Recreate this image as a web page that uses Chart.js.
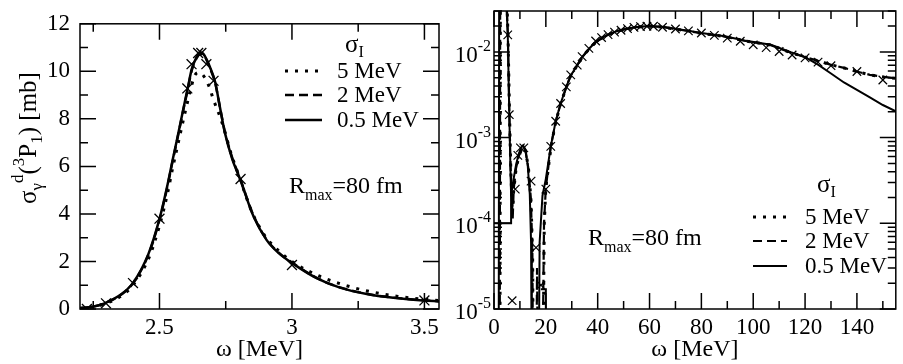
<!DOCTYPE html>
<html>
<head>
<meta charset="utf-8">
<script src="https://cdn.jsdelivr.net/npm/chart.js@4.4.0/dist/chart.umd.min.js"></script>
<style>
body { margin: 0; background: #fff; width: 903px; height: 364px; overflow: hidden; }
canvas { position: absolute; top: 0; }
#left { left: 0; }
#right { left: 450px; }
</style>
</head>
<body>
<canvas id="left" width="450" height="364"></canvas>
<canvas id="right" width="453" height="364"></canvas>
<script>
const FONT = '"Liberation Serif", "Times New Roman", serif';

// ---- left panel: omega [MeV] vs sigma [mb] ----
const leftXTicks = [2.5, 3, 3.5];
const leftYTicks = [0, 2, 4, 6, 8, 10, 12];

const leftSolidX = [2.2, 2.25, 2.29, 2.357, 2.4, 2.458, 2.5, 2.527, 2.552, 2.565, 2.59, 2.606, 2.622, 2.64, 2.653, 2.665, 2.68, 2.691, 2.71, 2.728, 2.747, 2.775, 2.804, 2.854, 2.904, 2.95, 3.005, 3.093, 3.181, 3.282, 3.382, 3.495, 3.555];
const leftSolidY = [0.03, 0.1, 0.23, 0.63, 1.1, 2.31, 3.79, 5.06, 6.4, 7.07, 8.42, 9.26, 10.1, 10.6, 10.8, 10.75, 10.45, 10.16, 9.55, 8.5, 7.41, 6.3, 5.47, 3.92, 2.91, 2.35, 1.9, 1.3, 0.9, 0.63, 0.47, 0.36, 0.32];

const leftDashX = [2.2, 2.25, 2.29, 2.357, 2.4, 2.458, 2.5, 2.527, 2.552, 2.565, 2.59, 2.606, 2.622, 2.64, 2.653, 2.665, 2.68, 2.691, 2.71, 2.728, 2.747, 2.775, 2.804, 2.854, 2.904, 2.95, 3.005, 3.093, 3.181, 3.282, 3.382, 3.495, 3.555];
const leftDashY = [0.03, 0.1, 0.23, 0.62, 1.08, 2.28, 3.75, 5.0, 6.35, 7.02, 8.38, 9.2, 10.05, 10.55, 10.72, 10.7, 10.42, 10.12, 9.52, 8.5, 7.45, 6.35, 5.5, 3.95, 2.93, 2.37, 1.92, 1.31, 0.91, 0.64, 0.48, 0.37, 0.33];

const leftDotX = [2.2, 2.25, 2.3, 2.36, 2.4, 2.46, 2.5, 2.53, 2.55, 2.57, 2.59, 2.61, 2.634, 2.65, 2.669, 2.688, 2.703, 2.728, 2.743, 2.77, 2.8, 2.85, 2.9, 2.95, 3.0, 3.1, 3.2, 3.3, 3.4, 3.5, 3.555];
const leftDotY = [0.03, 0.1, 0.24, 0.58, 1.0, 2.15, 3.5, 4.85, 5.95, 6.95, 7.95, 8.9, 9.84, 9.95, 9.77, 9.34, 8.83, 8.1, 7.6, 6.55, 5.6, 4.05, 3.05, 2.45, 2.0, 1.4, 1.0, 0.72, 0.53, 0.41, 0.36];

const leftMarkX = [2.226, 2.298, 2.4, 2.5, 2.605, 2.621, 2.646, 2.658, 2.677, 2.704, 2.806, 3.0, 3.5];
const leftMarkY = [0.0, 0.24, 1.09, 3.8, 9.28, 10.3, 10.77, 10.77, 10.3, 9.6, 5.47, 1.85, 0.36];

// ---- right panel: omega [MeV] vs sigma (log) ----
const rightXTicks = [0, 20, 40, 60, 80, 100, 120, 140];
const rightYTicks = [1e-5, 1e-4, 1e-3, 1e-2];
const rightYExp = ['-5', '-4', '-3', '-2'];

// null breaks the line
const rightSolidX = [0, 6.6, 6.6, 6.6,
  1.8, 2.0, 3, 4.4, 4.9, 5.3, 5.9, 6.3, 6.6, 7.5, 8.5, 9.5, 10.5, 11.2, 12, 13, 13.8, 14.3, 14.6, 14.6,
  17.2, 17.6, 18.7, 20, 21.9, 23.8, 25.7, 27.9, 29.6, 32.1, 34, 36.6, 39.2, 42, 44.3, 47, 50.6, 55, 59.6, 65, 69.8, 75, 80, 89, 96.6, 106.8, 114.5, 120, 125, 130, 135, 140, 145, 150, 155.4, 155.4,
  18.1, 20, 20];
const rightSolidY = [1e-4, 1e-4, 2.1e-4, null,
  1e-6, 0.1, 1, 0.1, 0.03, 0.0165, 1.85e-3, 5e-4, 2.1e-4, 3.2e-4, 4.8e-4, 6.4e-4, 7.7e-4, 8.1e-4, 7.4e-4, 4.8e-4, 2.2e-4, 6e-5, 1e-6, null,
  1e-6, 6e-5, 2.1e-4, 3.3e-4, 7.9e-4, 1.55e-3, 2.5e-3, 3.9e-3, 5.3e-3, 7.0e-3, 8.7e-3, 0.0108, 0.013, 0.0148, 0.0161, 0.0173, 0.0185, 0.0195, 0.0201, 0.0196, 0.0186, 0.0176, 0.0166, 0.0152, 0.0136, 0.0121, 0.0099, 0.0087, 0.0071, 0.0056, 0.0044, 0.0036, 0.00295, 0.0024, 0.002, null,
  1.7e-5, 1.7e-5, 1e-6];

const rightDashX = [2.2, 2.4, 3.2, 4.5, 5.0, 5.35, 5.95, 6.4, 7.0, 7.2, 7.6, 8.5, 9.5, 10.5, 11.3, 12.2, 13.2, 14.2, 14.8, 15.1, 15.1,
  16.3, 16.6, 17.0, 17.0,
  18.6, 19.3, 20, 21.9, 23.8, 25.7, 27.9, 29.6, 32.1, 34, 36.6, 39.2, 42, 44.3, 47, 50.6, 55, 59.6, 65, 69.8, 75, 80, 89, 96.6, 106.8, 114.5, 120, 124.7, 129.8, 135, 140, 145, 150.3, 155.4];
const rightDashY = [1e-6, 0.1, 1, 0.1, 0.03, 0.016, 1.8e-3, 4.5e-4, 1.6e-4, 1.1e-4, 2.5e-4, 4.4e-4, 6.0e-4, 7.3e-4, 7.8e-4, 7.0e-4, 4.5e-4, 2e-4, 5e-5, 1e-6, null,
  1e-6, 3e-5, 1e-6, null,
  1e-6, 1e-4, 2.6e-4, 7.8e-4, 1.53e-3, 2.48e-3, 3.88e-3, 5.3e-3, 7.0e-3, 8.7e-3, 0.0107, 0.0129, 0.0147, 0.016, 0.0172, 0.0184, 0.0194, 0.02, 0.0195, 0.0185, 0.0175, 0.0165, 0.0151, 0.0135, 0.012, 0.0098, 0.0087, 0.0079, 0.0071, 0.0065, 0.0059, 0.0054, 0.0051, 0.0049];

const rightDotX = [2.3, 2.5, 3.5, 4.6, 5.1, 5.4, 6.0, 6.5, 7.1, 7.6, 8.5, 9.5, 10.5, 11.3, 12.2, 13.3, 14.3, 14.9, 15.2, 15.2,
  18.8, 19.4, 20, 22, 23.8, 25.7, 27.9, 29.6, 32.1, 34, 36.6, 39.2, 42, 44.3, 47, 50.6, 55, 59.6, 65, 69.8, 75, 80, 89, 96.6, 106.8, 114.5, 120, 124.7, 129.8, 135, 140, 145, 150.3, 155.4];
const rightDotY = [1e-6, 1, 1, 0.1, 0.03, 0.016, 1.8e-3, 4e-4, 1.3e-4, 2.4e-4, 4.3e-4, 5.9e-4, 7.2e-4, 7.7e-4, 7.0e-4, 4.4e-4, 1.8e-4, 4e-5, 1e-6, null,
  1e-6, 1e-4, 2.6e-4, 7.8e-4, 1.52e-3, 2.47e-3, 3.87e-3, 5.3e-3, 6.95e-3, 8.65e-3, 0.0107, 0.0129, 0.0147, 0.016, 0.0172, 0.0184, 0.0194, 0.02, 0.0195, 0.0185, 0.0175, 0.0165, 0.0151, 0.0135, 0.012, 0.0098, 0.0087, 0.0079, 0.0071, 0.0065, 0.0059, 0.0054, 0.0051, 0.0049];

const rightMarkX = [5.3, 5.9, 7.0, 8.2, 9.2, 10.2, 11.5, 14.3, 16.2, 18.1, 20, 21.9, 23.8, 25.7, 27.9, 29.6, 32.1, 34, 36.6, 39.2, 41.5, 44, 46.5, 49, 51.5, 54, 56.5, 59, 61.5, 65, 70, 75, 80, 85, 90, 95, 100, 105, 110, 115, 120, 125, 130, 140, 150];
const rightMarkY = [0.0158, 1.85e-3, 1.25e-5, 2.5e-4, 6.2e-4, 7.6e-4, 7.6e-4, 3.1e-4, 5.2e-5, 1.9e-5, 2.5e-4, 7.9e-4, 1.55e-3, 2.5e-3, 3.9e-3, 5.4e-3, 7.0e-3, 8.8e-3, 0.011, 0.0134, 0.0147, 0.0159, 0.017, 0.0179, 0.0187, 0.0193, 0.0197, 0.0199, 0.0199, 0.0194, 0.0185, 0.0176, 0.0166, 0.0156, 0.0145, 0.0133, 0.0121, 0.0112, 0.0101, 0.0092, 0.0085, 0.0076, 0.0069, 0.0059, 0.0047];

const legendLabels = ['5 MeV', '2 MeV', '0.5 MeV'];

Chart.defaults.font.family = FONT;
Chart.defaults.color = '#000';

function pts(xs, ys) {
  return xs.map((x, i) => ({ x: x, y: ys[i] }));
}

// text with sub/superscripts: parts = [text, size, dy]
function drawRich(ctx, x, y, parts, align) {
  let w = 0;
  parts.forEach(p => { ctx.font = p[1] + 'px ' + FONT; w += ctx.measureText(p[0]).width; });
  let cx = align === 'center' ? x - w / 2 : (align === 'right' ? x - w : x);
  ctx.textAlign = 'left';
  ctx.textBaseline = 'alphabetic';
  parts.forEach(p => {
    ctx.font = p[1] + 'px ' + FONT;
    ctx.fillText(p[0], cx, y + p[2]);
    cx += ctx.measureText(p[0]).width;
  });
}

function drawLegend(ctx, x0, x1, tx, ys, widths) {
  const dashes = [[3, 7], [9, 5], []];
  ctx.strokeStyle = '#000';
  for (let i = 0; i < 3; i++) {
    ctx.setLineDash(dashes[i]);
    ctx.lineWidth = widths[i];
    ctx.beginPath();
    ctx.moveTo(x0, ys[i]);
    ctx.lineTo(x1, ys[i]);
    ctx.stroke();
  }
  ctx.setLineDash([]);
  ctx.font = '23px ' + FONT;
  ctx.textAlign = 'left';
  ctx.textBaseline = 'middle';
  legendLabels.forEach((t, i) => ctx.fillText(t, tx, ys[i] + 1));
}

function framePlugin(cfg) {
  return {
    id: 'frame',
    afterDraw(chart) {
      const ctx = chart.ctx, a = chart.chartArea;
      const sx = chart.scales.x, sy = chart.scales.y;
      ctx.save();
      ctx.strokeStyle = '#000';
      ctx.fillStyle = '#000';
      ctx.lineWidth = 1.5;
      ctx.setLineDash([]);
      ctx.strokeRect(a.left, a.top, a.right - a.left, a.bottom - a.top);
      ctx.beginPath();
      const tx = (v, len) => {
        const p = sx.getPixelForValue(v);
        ctx.moveTo(p, a.bottom); ctx.lineTo(p, a.bottom - len);
        ctx.moveTo(p, a.top); ctx.lineTo(p, a.top + len);
      };
      const ty = (v, len) => {
        const p = sy.getPixelForValue(v);
        if (p < a.top - 0.5 || p > a.bottom + 0.5) return;
        ctx.moveTo(a.left, p); ctx.lineTo(a.left + len, p);
        ctx.moveTo(a.right, p); ctx.lineTo(a.right - len, p);
      };
      cfg.xMajor.forEach(v => tx(v, 16));
      cfg.xMinor.forEach(v => tx(v, 8));
      cfg.yMajor.forEach(v => ty(v, 16));
      cfg.yMinor.forEach(v => ty(v, 8));
      ctx.stroke();
      cfg.text(ctx, chart);
      ctx.restore();
    }
  };
}

const leftXMinor = [2.25, 2.75, 3.25];
const leftYMinor = [1, 3, 5, 7, 9, 11];

new Chart(document.getElementById('left'), {
  type: 'line',
  data: {
    datasets: [
      { data: pts(leftDotX, leftDotY), borderColor: '#000', borderWidth: 3, borderDash: [3, 7], pointRadius: 0, cubicInterpolationMode: 'monotone' },
      { data: pts(leftDashX, leftDashY), borderColor: '#000', borderWidth: 2.5, borderDash: [9, 5], pointRadius: 0, cubicInterpolationMode: 'monotone' },
      { data: pts(leftSolidX, leftSolidY), borderColor: '#000', borderWidth: 2.5, pointRadius: 0, cubicInterpolationMode: 'monotone' },
      { data: pts(leftMarkX, leftMarkY), showLine: false, pointStyle: 'crossRot', pointRadius: 7, pointBorderWidth: 1.3, pointBorderColor: '#000', pointBackgroundColor: '#000' }
    ]
  },
  options: {
    responsive: false,
    animation: false,
    devicePixelRatio: 1,
    layout: { padding: { top: 11, right: 11, left: 0, bottom: 0 } },
    plugins: { legend: { display: false }, tooltip: { enabled: false } },
    scales: {
      x: {
        type: 'linear', min: 2.2, max: 3.555,
        afterBuildTicks: s => { s.ticks = leftXTicks.map(v => ({ value: v })); },
        afterFit: s => { s.height = 55; },
        grid: { display: false, drawTicks: false },
        border: { display: false },
        ticks: { font: { size: 23 }, padding: 5, maxRotation: 0, callback: v => String(v) },
        title: { display: true, text: 'ω [MeV]', font: { size: 24 }, padding: 0 }
      },
      y: {
        type: 'linear', min: 0, max: 12,
        afterBuildTicks: s => { s.ticks = leftYTicks.map(v => ({ value: v })); },
        afterFit: s => { s.width = 80; },
        grid: { display: false, drawTicks: false },
        border: { display: false },
        ticks: { font: { size: 23 }, padding: 10, callback: v => String(v) }
      }
    }
  },
  plugins: [framePlugin({
    xMajor: leftXTicks, xMinor: leftXMinor, yMajor: leftYTicks, yMinor: leftYMinor,
    text(ctx) {
      ctx.save();
      ctx.translate(36, 138);
      ctx.rotate(-Math.PI / 2);
      drawRich(ctx, 0, 0, [['σ', 25, 0], ['γ', 17, 6], ['d', 17, -13], ['(', 25, 0], ['3', 17, -12], ['P', 25, 0], ['1', 17, 6], [')', 25, 0], [' [mb]', 25, 0]], 'center');
      ctx.restore();
      drawRich(ctx, 345, 52, [['σ', 25, 0], ['I', 16, 5]], 'left');
      drawLegend(ctx, 285, 322, 337, [71, 95, 120], [3, 2.5, 2.5]);
      drawRich(ctx, 289, 193, [['R', 24, 0], ['max', 16, 7], ['=80 fm', 24, 0]], 'left');
    }
  })]
});

const rightXMinor = [10, 30, 50, 70, 90, 110, 130, 150];
const rightYMinor = [];
rightYTicks.forEach(d => { for (let k = 2; k <= 9; k++) rightYMinor.push(d * k); });

new Chart(document.getElementById('right'), {
  type: 'line',
  data: {
    datasets: [
      { data: pts(rightDotX, rightDotY), borderColor: '#000', borderWidth: 3, borderDash: [3, 7], pointRadius: 0, tension: 0 },
      { data: pts(rightDashX, rightDashY), borderColor: '#000', borderWidth: 2.2, borderDash: [10, 5], pointRadius: 0, tension: 0 },
      { data: pts(rightSolidX, rightSolidY), borderColor: '#000', borderWidth: 2, pointRadius: 0, tension: 0 },
      { data: pts(rightMarkX, rightMarkY), showLine: false, pointStyle: 'crossRot', pointRadius: 6, pointBorderWidth: 1.2, pointBorderColor: '#000', pointBackgroundColor: '#000' }
    ]
  },
  options: {
    responsive: false,
    animation: false,
    devicePixelRatio: 1,
    layout: { padding: { top: 11, right: 5, left: 0, bottom: 0 } },
    plugins: { legend: { display: false }, tooltip: { enabled: false } },
    scales: {
      x: {
        type: 'linear', min: 0, max: 155,
        afterBuildTicks: s => { s.ticks = rightXTicks.map(v => ({ value: v })); },
        afterFit: s => { s.height = 55; },
        grid: { display: false, drawTicks: false },
        border: { display: false },
        ticks: { font: { size: 23 }, padding: 5, maxRotation: 0, callback: v => String(v) },
        title: { display: true, text: 'ω [MeV]', font: { size: 24 }, padding: 0 }
      },
      y: {
        type: 'logarithmic', min: 1e-5, max: 0.03,
        afterFit: s => { s.width = 44; },
        grid: { display: false, drawTicks: false },
        border: { display: false },
        ticks: { display: false }
      }
    }
  },
  plugins: [framePlugin({
    xMajor: rightXTicks, xMinor: rightXMinor, yMajor: rightYTicks, yMinor: rightYMinor,
    text(ctx, chart) {
      const sy = chart.scales.y;
      rightYTicks.forEach((v, i) => {
        const p = sy.getPixelForValue(v);
        drawRich(ctx, 41, p + 10, [['10', 23, 0], [rightYExp[i], 16, -11]], 'right');
      });
      drawRich(ctx, 367, 192, [['σ', 25, 0], ['I', 16, 5]], 'left');
      drawLegend(ctx, 303, 337, 355, [217, 241, 266], [3, 2.2, 2]);
      drawRich(ctx, 138, 245, [['R', 24, 0], ['max', 16, 7], ['=80 fm', 24, 0]], 'left');
    }
  })]
});
</script>
</body>
</html>
